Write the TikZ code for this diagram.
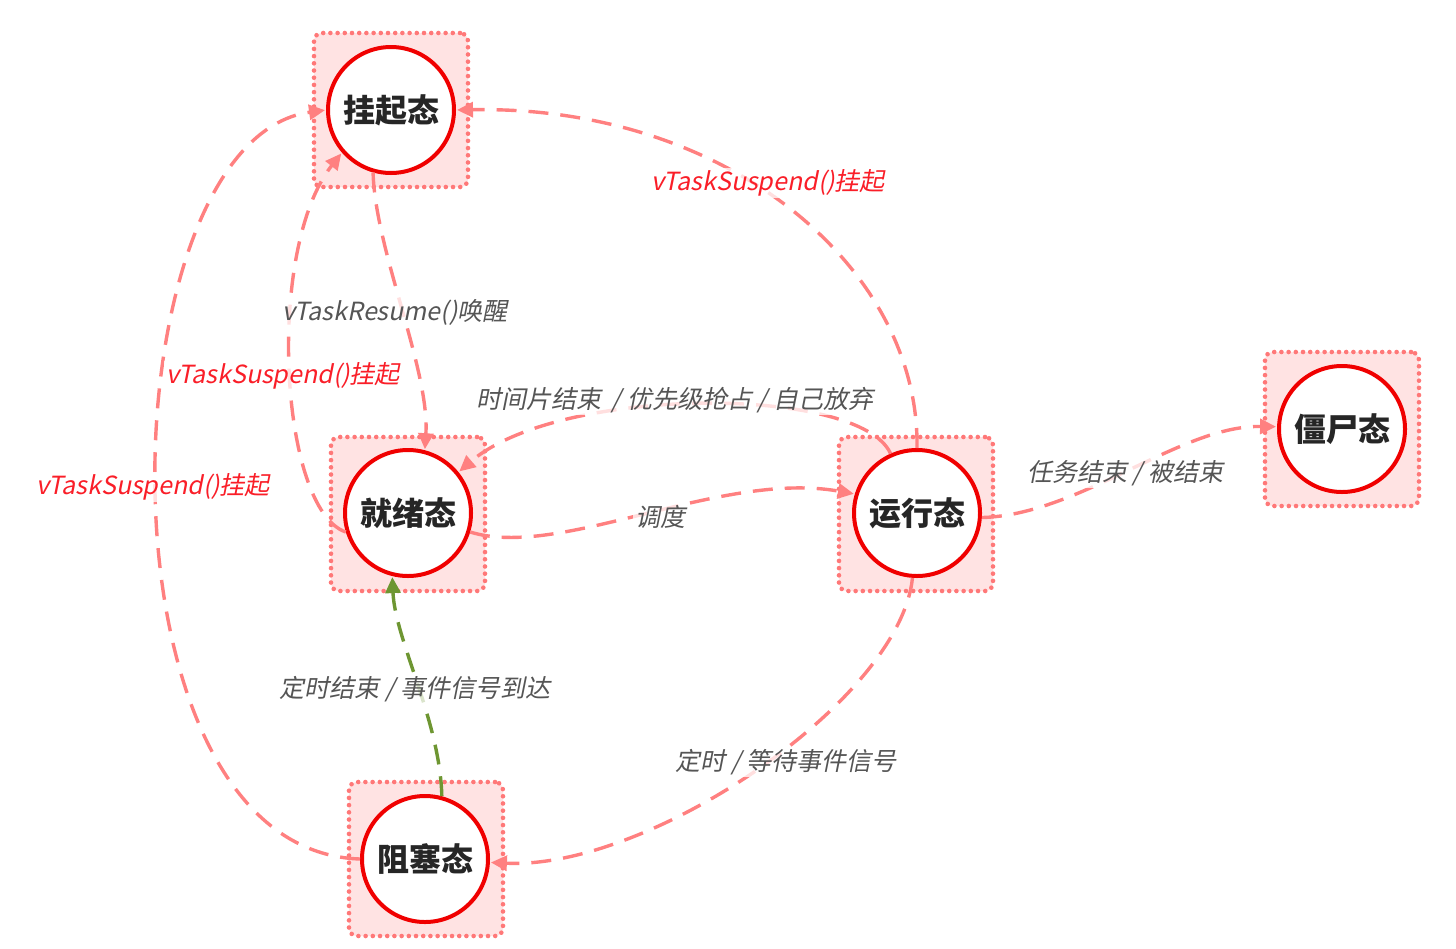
\documentclass[tikz,border=0pt]{standalone}
\usepackage{fontspec}
\setmainfont{Noto Sans CJK SC}
\newfontfamily\labfont{Noto Sans CJK SC}[FakeSlant=0.2]
\usetikzlibrary{arrows.meta}
\definecolor{edgepink}{RGB}{255,128,128}
\definecolor{boxfill}{RGB}{255,227,227}
\definecolor{boxdot}{RGB}{255,120,120}
\definecolor{ringred}{RGB}{240,0,0}
\definecolor{labgray}{RGB}{85,85,85}
\definecolor{labred}{RGB}{250,30,40}
\definecolor{olivegreen}{RGB}{110,150,50}
\tikzset{
  statebox/.style={rectangle, rounded corners=4pt, minimum size=77pt, inner sep=0pt,
    fill=boxfill, draw=boxdot, line width=2.3pt, line cap=round, dash pattern=on 0pt off 3.6pt},
  statering/.style={circle, minimum size=63pt, inner sep=0pt, fill=white, draw=ringred,
    line width=2pt, font=\bfseries\fontsize{16pt}{18pt}\selectfont, text=black!85},
  trans/.style={draw=edgepink, line width=1.7pt, dash pattern=on 10pt off 6pt,
    -{Triangle[length=8pt,width=7.5pt]}, shorten >=0.5pt},
  greentrans/.style={trans, draw=olivegreen},
  lab/.style={font=\labfont\fontsize{12.5pt}{14pt}\selectfont, text=labgray,
    fill=white, fill opacity=0.75, text opacity=1, inner sep=1pt},
  redlab/.style={lab, text=labred}
}
\begin{document}
\begin{tikzpicture}[x=0.5pt,y=-0.5pt]
\useasboundingbox (0,0) rectangle (1456,948);
% boxes
\node[statebox] (bS) at (391,110) {};
\node[statebox] (bR) at (408,514) {};
\node[statebox] (bU) at (916,514) {};
\node[statebox] (bZ) at (1342,429) {};
\node[statebox] (bB) at (426,859) {};
% circles
\node[statering] (S) at (391,110) {挂起态};
\node[statering] (R) at (408,513) {就绪态};
\node[statering] (U) at (917,513) {运行态};
\node[statering] (Z) at (1342,429) {僵尸态};
\node[statering] (B) at (425,859) {阻塞态};
% transitions
\draw[trans] (S.254) .. controls (375,250) and (430,370) .. (R.75);
\draw[trans] (R.197) .. controls (280,510) and (265,250) .. (S.221);
\draw[trans] (B.180) .. controls (85,850) and (105,140) .. (S.180);
\draw[trans] (U.90) .. controls (920,270) and (730,105) .. (S.0);
\draw[trans] (U.114) .. controls (860,385) and (560,385) .. (R.39);
\draw[trans] (R.-17) .. controls (560,560) and (720,470) .. (U.163);
\draw[trans] (U.266) .. controls (900,700) and (650,870) .. (B.-3);
\draw[greentrans] (B.75) .. controls (440,720) and (395,640) .. (R.256);
\draw[trans] (U.-4) .. controls (1080,515) and (1180,425) .. (Z.178);
% labels
\node[lab] (l1) at (395,312) {vTaskResume()唤醒};
\node[redlab] (l2) at (283,376) {vTaskSuspend()挂起};
\node[redlab] (l3) at (153,487) {vTaskSuspend()挂起};
\node[redlab] (l4) at (768,183) {vTaskSuspend()挂起};
\node[lab] (l5) at (675,400) {时间片结束 \,/ 优先级抢占 / 自己放弃};
\node[lab] (l6) at (660,517) {调度};
\node[lab] (l7) at (415,689) {定时结束 / 事件信号到达};
\node[lab] (l8) at (786,762) {定时 / 等待事件信号};
\node[lab] (l9) at (1125,473) {任务结束 / 被结束};
\end{tikzpicture}
\end{document}
